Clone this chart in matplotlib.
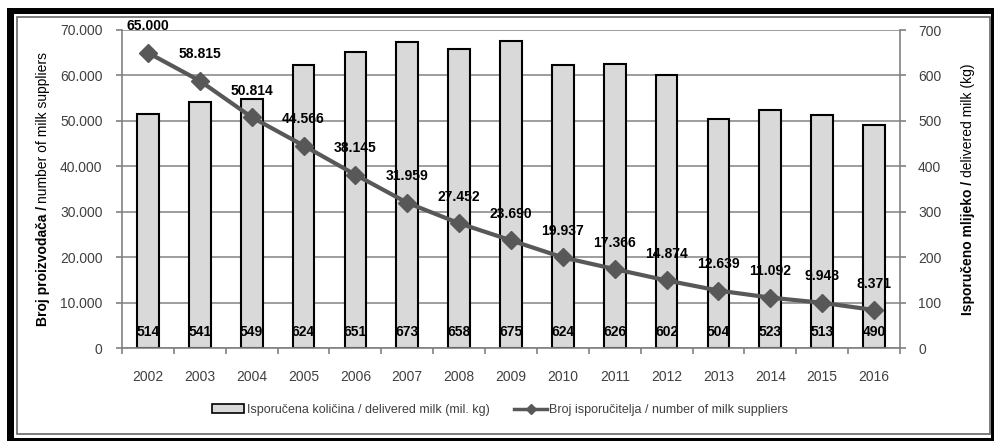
import matplotlib
matplotlib.use('Agg')
import matplotlib.pyplot as plt
from matplotlib.patches import Rectangle
from matplotlib.lines import Line2D
from matplotlib.ticker import MultipleLocator, FuncFormatter

years = ['2002', '2003', '2004', '2005', '2006', '2007', '2008', '2009',
         '2010', '2011', '2012', '2013', '2014', '2015', '2016']
delivered_milk = [514, 541, 549, 624, 651, 673, 658, 675, 624, 626, 602, 504, 523, 513, 490]
suppliers = [65000, 58815, 50814, 44566, 38145, 31959, 27452, 23690,
             19937, 17366, 14874, 12639, 11092, 9948, 8371]

bar_label = 'Isporučena količina / delivered milk (mil. kg)'
line_label = 'Broj isporučitelja / number of milk suppliers'

plt.rcParams['font.family'] = ['Liberation Sans', 'DejaVu Sans']

W, H = 1000, 442
fig = plt.figure(figsize=(W / 100, H / 100), dpi=100)
fig.patch.set_facecolor('white')


def dots(v, pos=None):
    return f'{int(round(v)):,}'.replace(',', '.')


# bars sit on the primary axes, their scale shown on the right
ax = fig.add_axes([122 / W, 1 - 348 / H, 778 / W, 318 / H])
ax2 = ax.twinx()

xs = list(range(len(years)))
ax.bar(xs, delivered_milk, width=0.42, color='#d9d9d9', edgecolor='black',
       linewidth=1.5, zorder=2)
ax.set_xlim(-0.5, len(years) - 0.5)
ax.set_ylim(0, 700)
ax.yaxis.tick_right()
ax.yaxis.set_major_locator(MultipleLocator(100))
ax.grid(axis='y', color='#8c8c8c', linewidth=1.2, zorder=0)
ax.set_axisbelow(True)

ax.set_xticks(xs)
ax.set_xticklabels(years)
ax.set_xticks([i - 0.5 for i in range(len(years) + 1)], minor=True)
ax.tick_params(axis='x', which='major', length=0, pad=16, labelsize=10, labelcolor='#404040')
ax.tick_params(axis='x', which='minor', length=4, width=1.2, color='#808080')
ax.tick_params(axis='y', which='major', length=4, width=1.2, color='#808080',
               pad=9, labelsize=10, labelcolor='#404040')

for side in ['left', 'right', 'bottom']:
    ax.spines[side].set_color('#808080')
    ax.spines[side].set_linewidth(1.2)
ax.spines['top'].set_visible(False)

for i, v in enumerate(delivered_milk):
    ax.annotate(str(v), (i, 0), xytext=(0, 11.5), textcoords='offset points',
                ha='center', va='center', fontsize=10, fontweight='bold',
                color='black', zorder=4)

# supplier line on the twin axes, scale on the left
ax2.yaxis.tick_left()
ax2.plot(xs, suppliers, color='#585858', linewidth=3, marker='D', markersize=9,
         zorder=3, clip_on=False)
ax2.set_ylim(0, 70000)
ax2.yaxis.set_major_locator(MultipleLocator(10000))
ax2.yaxis.set_major_formatter(FuncFormatter(dots))
ax2.tick_params(axis='y', which='major', length=4, width=1.2, color='#808080',
                pad=10, labelsize=10, labelcolor='#404040')
for side in ax2.spines:
    ax2.spines[side].set_visible(False)

for i, v in enumerate(suppliers):
    ax2.annotate(dots(v), (i, v), xytext=(0, 19), textcoords='offset points',
                 ha='center', va='center', fontsize=10, fontweight='bold',
                 color='black', annotation_clip=False)

# axis titles with a bold lead-in
renderer = fig.canvas.get_renderer()


def split_label(x_px, center_px, parts):
    texts = []
    for s, weight in parts:
        t = fig.text(x_px / W, 0, s, rotation=90, ha='center', va='bottom',
                     fontsize=10, fontweight=weight, color='black')
        texts.append(t)
    heights = [t.get_window_extent(renderer).height for t in texts]
    y = (H - center_px) - sum(heights) / 2
    for t, h in zip(texts, heights):
        t.set_y(y / H)
        y += h


split_label(43, 189, [('Broj proizvodača / ', 'bold'),
                      ('number of milk suppliers', 'normal')])
split_label(968, 189, [('Isporučeno mlijeko / ', 'bold'),
                       ('delivered milk (kg)', 'normal')])

handles = [Rectangle((0, 0), 1, 1, facecolor='#d9d9d9', edgecolor='black', linewidth=1.2),
           Line2D([], [], color='#585858', linewidth=2.5, marker='D', markersize=5)]
fig.legend(handles, [bar_label, line_label], loc='center', bbox_to_anchor=(0.5, 1 - 410 / H),
           ncol=2, frameon=False, fontsize=9, handlelength=2.6, handletextpad=0.2,
           columnspacing=2.0, labelcolor='#404040')


# page frame
def px_rect(x0, y0, x1, y1, **kw):
    fig.patches.append(Rectangle((x0 / W, 1 - y1 / H), (x1 - x0) / W, (y1 - y0) / H,
                                 transform=fig.transFigure, figure=fig, **kw))


px_rect(7, 8, 994, 14, facecolor='black', edgecolor='none')
px_rect(7, 8, 14, 441, facecolor='black', edgecolor='none')
px_rect(991, 8, 994, 441, facecolor='black', edgecolor='none')
px_rect(7, 438, 994, 441, facecolor='black', edgecolor='none')
px_rect(17, 17, 990, 434, facecolor='none', edgecolor='#666666', linewidth=1.2)

fig.savefig('out.png', dpi=100)
